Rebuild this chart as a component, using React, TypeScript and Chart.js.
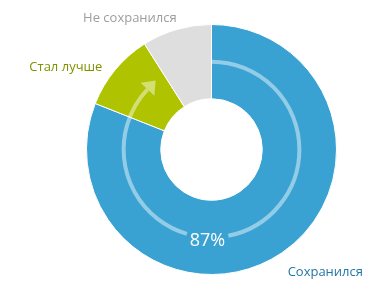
import React, { useEffect, useRef } from "react";
import { Chart, registerables } from "chart.js";

Chart.register(...registerables);

const categories = ["Сохранился", "Стал лучше", "Не сохранился"];
const values = [81, 10, 9];
const arrowPercent = 87;
const arrowLabel = "87%";

const sliceColors = ["#39a2d2", "#afc300", "#dedede"];
const labelColors = ["#2377a8", "#7f9100", "#9d9d9d"];
// small style nudges for label placement (pixels)
const labelNudges = [
  [-2, 1],
  [-2, 4],
  [4, 0],
];
const FONT = "'Open Sans', 'DejaVu Sans', sans-serif";

const overlayPlugin = {
  id: "overlay",
  afterDatasetsDraw(chart: any) {
    const meta = chart.getDatasetMeta(0);
    const first = meta.data[0];
    if (!first) return;
    const { x: cx, y: cy, innerRadius, outerRadius } = first.getProps(
      ["x", "y", "innerRadius", "outerRadius"],
      true
    );
    const ctx: CanvasRenderingContext2D = chart.ctx;
    const r = (innerRadius + outerRadius) / 2;

    ctx.save();
    // arrow arc
    ctx.font = `18px ${FONT}`;
    const tw = ctx.measureText(arrowLabel).width;
    const textX = cx - 4;
    const gap = Math.asin(Math.min(1, (tw / 2 + 3) / r));
    const start = -Math.PI / 2;
    const end = start + (2 * Math.PI * arrowPercent) / 100;
    const bottom = Math.PI / 2 - Math.asin((textX - cx) / r);
    ctx.strokeStyle = "rgba(255,255,255,0.45)";
    ctx.fillStyle = "rgba(255,255,255,0.45)";
    ctx.lineWidth = 4;
    ctx.lineCap = "butt";
    ctx.beginPath();
    ctx.arc(cx, cy, r, start, bottom - gap);
    ctx.stroke();
    ctx.beginPath();
    ctx.arc(cx, cy, r, bottom + gap, end);
    ctx.stroke();

    // arrowhead
    const hx = cx + r * Math.cos(end);
    const hy = cy + r * Math.sin(end);
    const tx = -Math.sin(end);
    const ty = Math.cos(end);
    const nx = Math.cos(end);
    const ny = Math.sin(end);
    const headLen = 12;
    const headHalf = 9.5;
    ctx.beginPath();
    ctx.moveTo(hx + tx * headLen, hy + ty * headLen);
    ctx.lineTo(hx + nx * headHalf, hy + ny * headHalf);
    ctx.lineTo(hx - nx * headHalf, hy - ny * headHalf);
    ctx.closePath();
    ctx.fill();

    // percent label
    ctx.fillStyle = "#ffffff";
    ctx.textAlign = "center";
    ctx.textBaseline = "middle";
    ctx.fillText(arrowLabel, textX, cy + r + 3);

    // category labels
    ctx.font = `13px ${FONT}`;
    meta.data.forEach((arc: any, i: number) => {
      const p = arc.getProps(["startAngle", "endAngle"], true);
      const mid = (p.startAngle + p.endAngle) / 2;
      const R = outerRadius + 14;
      const lx = cx + R * Math.cos(mid);
      const ly = cy + R * Math.sin(mid);
      const [ox, oy] = labelNudges[i] || [0, 0];
      ctx.fillStyle = labelColors[i];
      ctx.textAlign = lx > cx ? "left" : "right";
      ctx.textBaseline = ly > cy ? "top" : "middle";
      ctx.fillText(categories[i], lx + ox, ly + oy + (ly > cy ? 0 : 2));
    });
    ctx.restore();
  },
};

export default function App() {
  const canvasRef = useRef<HTMLCanvasElement | null>(null);

  useEffect(() => {
    document.body.style.margin = "0";
    const canvas = canvasRef.current;
    if (!canvas) return;
    const chart = new Chart(canvas, {
      type: "doughnut",
      data: {
        labels: categories,
        datasets: [
          {
            data: values,
            backgroundColor: sliceColors,
            borderColor: "#ffffff",
            borderWidth: 1,
            hoverOffset: 0,
          },
        ],
      },
      options: {
        responsive: false,
        animation: false,
        cutout: "40.6%",
        layout: { padding: { left: 40, right: 0, top: 24, bottom: 24 } },
        plugins: {
          legend: { display: false },
          tooltip: { enabled: false },
        },
      },
      plugins: [overlayPlugin],
    });
    return () => chart.destroy();
  }, []);

  return (
    <div style={{ width: 383, height: 299, background: "#ffffff" }}>
      <canvas ref={canvasRef} width={383} height={299} />
    </div>
  );
}
